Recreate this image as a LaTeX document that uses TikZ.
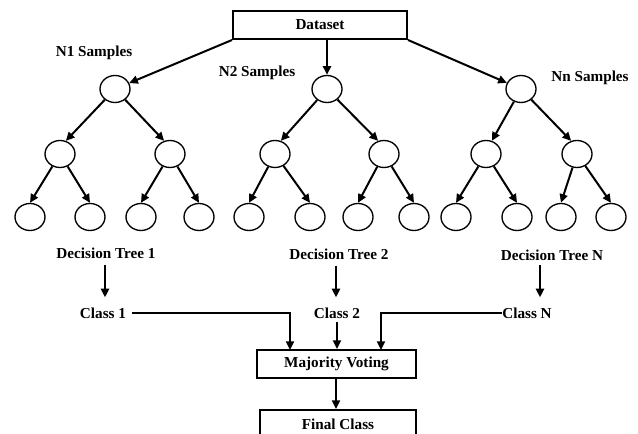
\documentclass[tikz,border=0pt]{standalone}
\usepackage{fontspec}
\setmainfont{Liberation Serif}
\usetikzlibrary{arrows.meta,shapes.geometric}
\tikzset{
  tnode/.style={ellipse, draw, line width=1pt, minimum width=22.5pt, minimum height=20.25pt, inner sep=0pt},
  lbl/.style={font=\fontsize{11.4}{13}\selectfont\bfseries, inner sep=0pt},
  boxn/.style={draw, line width=1.5pt, minimum height=21pt, inner sep=0pt, font=\fontsize{11.4}{13}\selectfont\bfseries},
  arr/.style={line width=1.5pt, -{Triangle[length=6.5pt,width=6pt]}},
  ln/.style={line width=1.5pt}
}
\begin{document}
\begin{tikzpicture}[x=0.75pt,y=-0.75pt]
\useasboundingbox (0,0) rectangle (638,434);
\clip (0,0) rectangle (638,434);
\fill[white] (0,0) rectangle (638,434);
% dataset
\node[boxn, minimum width=130.5pt] (ds) at (320,25) {Dataset};
\node[lbl] (n1) at (94,53) {N1 Samples};
\node[lbl] (n2) at (257,73) {N2 Samples};
\node[lbl] (nn) at (590,78) {Nn Samples};
% tree 1
\node[tnode] (r1) at (115,89) {};
\node[tnode] (a1) at (60,154) {};
\node[tnode] (b1) at (170,154) {};
\node[tnode] (l11) at (30,217) {};
\node[tnode] (l12) at (90,217) {};
\node[tnode] (l13) at (141,217) {};
\node[tnode] (l14) at (199,217) {};
% tree 2
\node[tnode] (r2) at (327,89) {};
\node[tnode] (a2) at (275,154) {};
\node[tnode] (b2) at (384,154) {};
\node[tnode] (l21) at (249,217) {};
\node[tnode] (l22) at (310,217) {};
\node[tnode] (l23) at (358,217) {};
\node[tnode] (l24) at (414,217) {};
% tree 3
\node[tnode] (r3) at (521,89) {};
\node[tnode] (a3) at (486,154) {};
\node[tnode] (b3) at (577,154) {};
\node[tnode] (l31) at (456,217) {};
\node[tnode] (l32) at (517,217) {};
\node[tnode] (l33) at (561,217) {};
\node[tnode] (l34) at (611,217) {};
% dataset arrows
\draw[arr] (ds.south west) -- (r1);
\draw[arr] (r2.north |- ds.south) -- (r2.north);
\draw[arr] (ds.south east) -- (r3);
% tree edges
\foreach \t in {1,2,3}{
  \draw[arr] (r\t) -- (a\t.66);
  \draw[arr] (r\t) -- (b\t.114);
  \draw[arr] (a\t) -- (l\t1.north);
  \draw[arr] (a\t) -- (l\t2.north);
  \draw[arr] (b\t) -- (l\t3.north);
  \draw[arr] (b\t) -- (l\t4.north);
}
% decision trees
\node[lbl] (dt1) at (106,253) {Decision Tree 1};
\node[lbl] (dt2) at (339,254) {Decision Tree 2};
\node[lbl] (dtn) at (552,255) {Decision Tree N};
\node[lbl] (c1) at (103,313) {Class 1};
\node[lbl] (c2) at (337,313) {Class 2};
\node[lbl] (cn) at (527,313) {Class N};
\draw[arr, shorten <=4.5pt, shorten >=7.5pt] ([xshift=-0.75pt]dt1.south) -- ([xshift=-0.75pt]dt1.south |- c1.north);
\draw[arr, shorten <=4.5pt, shorten >=7.5pt] ([xshift=-2.25pt]dt2.south) -- ([xshift=-2.25pt]dt2.south |- c2.north);
\draw[arr, shorten <=3.5pt, shorten >=7.5pt] ([xshift=-9pt]dtn.south) -- ([xshift=-9pt]dtn.south |- cn.north);
% voting
\node[boxn, minimum width=119.25pt] (mv) at (336.5,364) {Majority Voting};
\node[boxn, minimum width=117pt] (fc) at (338,424) {Final Class};
\coordinate (in1) at (290,350);
\coordinate (in3) at (381,350);
\draw[arr] ([xshift=4.5pt]c1.east) -| (in1);
\draw[arr, shorten <=2.8pt] (c2.south) -- (c2.south |- mv.north);
\draw[arr] (cn.west) -| (in3);
\draw[arr] ([xshift=-0.375pt]mv.south) -- ([xshift=-0.375pt]mv.south |- fc.north);
\end{tikzpicture}
\end{document}
